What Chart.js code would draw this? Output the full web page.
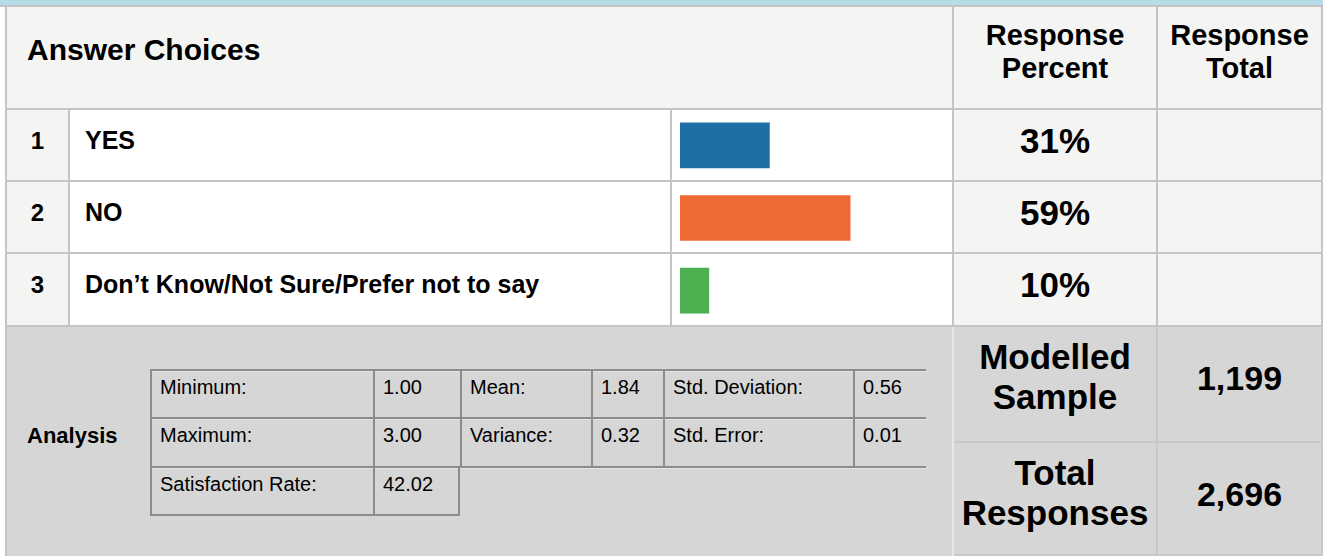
<!DOCTYPE html>
<html>
<head>
<meta charset="utf-8">
<title>Answer Choices</title>
<script src="https://cdn.jsdelivr.net/npm/chart.js@4/dist/chart.umd.min.js"></script>
<style>
  body { margin: 0; background: #fff; font-family: "Liberation Sans", Arial, sans-serif; color: #000; }
  #page { position: relative; width: 1323px; height: 556px; overflow: hidden; }
  .cell { position: absolute; box-sizing: border-box; border-right: 2px solid #c4c4c4; border-bottom: 2px solid #c4c4c4; }
  .hd { background: #f4f4f3; }
  .an { background: #d6d6d6; }
  .txt { position: absolute; left: 0; right: 0; font-weight: bold; white-space: nowrap; }
  .st { position: absolute; box-sizing: border-box; border-top: 2px solid #8c8c8c; border-left: 2px solid #8c8c8c;
        box-shadow: inset 0 1px 0 #e4e4e4; font-size: 20px; padding: 6px 0 0 8px; line-height: 20px; white-space: nowrap; }
  #bars { position: absolute; left: 672px; top: 109px; }
</style>
</head>
<body>
<div id="page"></div>
<script>
// answer choices and their share of responses
var choiceNo = ['1', '2', '3'];
var choices = ['YES', 'NO', 'Don\u2019t Know/Not Sure/Prefer not to say'];
var percents = [31, 59, 10];
var barColors = ['#1e6fa6', '#ef6934', '#4caf50'];

// summary statistics (label, value) for the analysis block
var statLabels = [['Minimum:', 'Mean:', 'Std. Deviation:'], ['Maximum:', 'Variance:', 'Std. Error:'], ['Satisfaction Rate:']];
var statValues = [['1.00', '1.84', '0.56'], ['3.00', '0.32', '0.01'], ['42.02']];

var sampleLabels = ['Modelled<br>Sample', 'Total<br>Responses'];
var sampleValues = ['1,199', '2,696'];

var page = document.getElementById('page');

function box(cls, x, y, w, h, html, css) {
    var d = document.createElement('div');
    d.className = cls;
    d.style.left = x + 'px';
    d.style.top = y + 'px';
    d.style.width = w + 'px';
    d.style.height = h + 'px';
    if (css) d.style.cssText += css;
    if (html) d.innerHTML = html;
    page.appendChild(d);
    return d;
}

// top band and outer left edge
box('', 0, 0, 1323, 5, '', 'position:absolute;background:#b5dce7;');
box('', 0, 5, 1323, 2, '', 'position:absolute;background:#c4c4c4;');
box('', 5, 5, 2, 551, '', 'position:absolute;background:#c4c4c4;');

// header row
box('cell hd', 7, 7, 947, 103,
    '<div class="txt" style="top:26px;left:20px;font-size:30px;">Answer Choices</div>');
box('cell hd', 954, 7, 204, 103,
    '<div class="txt" style="top:12px;font-size:29px;line-height:33px;text-align:center;">Response<br>Percent</div>');
box('cell hd', 1158, 7, 165, 103,
    '<div class="txt" style="top:12px;font-size:29px;line-height:33px;text-align:center;">Response<br>Total</div>');

// one row per answer choice
var rowTops = [110, 182, 254];
var rowH = [72, 72, 73];
for (var i = 0; i < choices.length; i++) {
    var t = rowTops[i], h = rowH[i];
    box('cell hd', 7, t, 63, h,
        '<div class="txt" style="top:17px;font-size:24px;text-align:center;">' + choiceNo[i] + '</div>');
    box('cell', 70, t, 602, h,
        '<div class="txt" style="top:16px;left:15px;font-size:25px;">' + choices[i] + '</div>');
    box('cell', 672, t, 282, h);
    box('cell hd', 954, t, 204, h,
        '<div class="txt" style="top:11px;font-size:35px;text-align:center;">' + percents[i] + '%</div>');
    box('cell hd', 1158, t, 165, h);
}

// analysis block
box('cell an', 7, 327, 947, 229, '', 'border-right:2px solid #e6e6e6;border-bottom:none;');
box('', 27, 423, 120, 26, 'Analysis', 'position:absolute;font-weight:bold;font-size:22px;');

var colX = [150, 373, 460, 591, 663, 853, 926];
var statTops = [369, 417, 466, 516];
for (var r = 0; r < statLabels.length; r++) {
    for (var c = 0; c < statLabels[r].length; c++) {
        var x0 = colX[c * 2], x1 = colX[c * 2 + 1], x2 = colX[c * 2 + 2];
        var ht = statTops[r + 1] - statTops[r];
        var last = (r == 2 ? 'border-bottom:2px solid #8c8c8c;' : '');
        box('st', x0, statTops[r], x1 - x0, ht, statLabels[r][c], last);
        box('st', x1, statTops[r], x2 - x1, ht, statValues[r][c],
            (r == 2 ? last + 'border-right:2px solid #8c8c8c;' : ''));
    }
}
// rule closing the two full rows
box('', colX[2], statTops[2], colX[6] - colX[2], 3, '',
    'position:absolute;box-sizing:border-box;border-top:2px solid #8c8c8c;border-bottom:1px solid #e4e4e4;');

// modelled sample / total responses
var sTops = [327, 443];
var sH = [116, 113];
for (var k = 0; k < sampleLabels.length; k++) {
    box('cell an', 954, sTops[k], 204, sH[k],
        '<div class="txt" style="top:10px;font-size:35px;line-height:40px;text-align:center;">' + sampleLabels[k] + '</div>',
        'border-color:#c8c8c8;');
    box('cell an', 1158, sTops[k], 165, sH[k],
        '<div class="txt" style="top:32px;font-size:34px;text-align:center;">' + sampleValues[k] + '</div>',
        'border-color:#c8c8c8;');
}

// bar column drawn over the three answer rows
var cv = document.createElement('canvas');
cv.id = 'bars';
cv.width = 282;
cv.height = 218;
page.appendChild(cv);

new Chart(cv, {
    type: 'bar',
    data: {
        labels: choices,
        datasets: [{
            data: percents,
            backgroundColor: barColors,
            borderWidth: 0,
            barThickness: 45
        }]
    },
    options: {
        indexAxis: 'y',
        responsive: false,
        animation: false,
        layout: { padding: { left: 8, right: 0, top: 0, bottom: 0 } },
        plugins: { legend: { display: false }, tooltip: { enabled: false } },
        scales: {
            x: { display: false, min: 0, max: 95 },
            y: { display: false }
        }
    }
});
</script>
</body>
</html>
